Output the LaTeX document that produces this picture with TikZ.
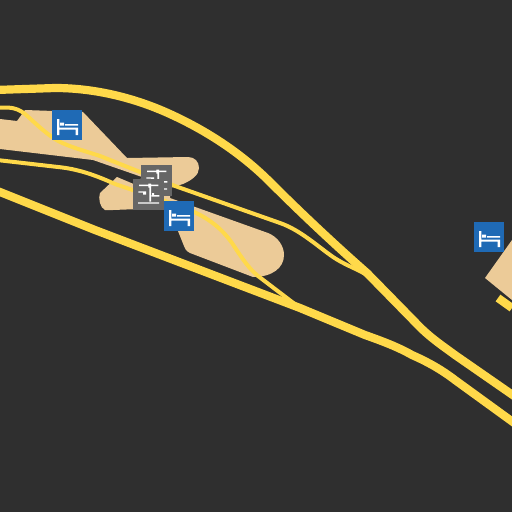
\documentclass[tikz,border=0pt]{standalone}
\definecolor{bgdark}{HTML}{2F2F2F}
\definecolor{tan}{HTML}{ECCB98}
\definecolor{road}{HTML}{FFD94A}
\definecolor{iconblue}{HTML}{1F6AB5}
\definecolor{icongray}{HTML}{666666}
\tikzset{
  roadwide/.style={draw=road,line width=8.2pt,line join=round},
  roadthin/.style={draw=road,line width=4pt,line join=round},
  area/.style={fill=tan,draw=none},
  bedicon/.pic={
    \fill[iconblue] (0,0) rectangle (30,30);
    \fill[white] (5,9) rectangle (7.3,25) (8.2,12.7) rectangle (12.2,15.7)
      (13.2,14) rectangle (26,15.7) (5,17.7) rectangle (26,19.7) (23.7,17.7) rectangle (26,25);
  },
  scaleicon/.pic={
    \fill[icongray] (0,0) rectangle (30.5,30.5);
    \fill[white] (6,5.7) rectangle (25.3,7) (15.3,4.7) rectangle (18,8.5) (16.3,8) rectangle (18,22.7)
      (5,23.3) rectangle (26,24.7) (5.3,12.3) rectangle (13,13.7) (18.7,16) rectangle (26.3,17.7)
      (10,13.7) rectangle (13,15.7) (19,14) rectangle (21,16);
  }
}
\begin{document}
\begin{tikzpicture}[x=1pt,y=-1pt]
\useasboundingbox (0,0) rectangle (512,512);
\fill[bgdark] (0,0) rectangle (512,512);
% sand areas
\fill[area] (0,119) -- (17,121) -- (25,110) -- (83,112) -- (127,158) -- (188,157)
  .. controls (195,157) and (199,162) .. (199,168)
  .. controls (199,175) and (192,180) .. (183,184)
  -- (170,188) -- (170,198) -- (268,233)
  .. controls (278,237) and (284,246) .. (284,255)
  .. controls (284,268) and (272,277) .. (253,277)
  -- (190,253) .. controls (186,251) and (185,249) .. (184,246)
  -- (178,231) -- (166,208) -- (113,210) -- (105,210)
  .. controls (100,208) and (98,198) .. (100,193)
  -- (117,177) -- (136,185) -- (142,177) -- (93,160) -- (0,149) -- cycle;
\fill[area] (512,240) -- (485,278) -- (512,300) -- cycle;
% roads
\draw[roadthin] (-3,107.5) -- (8,107.5) .. controls (15,108) and (20,110) .. (25,114)
  .. controls (33,121) and (42,130) .. (52,137)
  .. controls (62,145) and (85,151) .. (100,156)
  -- (175,186) -- (280,223)
  .. controls (300,230) and (316,245) .. (333,257)
  .. controls (345,265) and (355,268) .. (367,275);
\draw[roadthin] (-3,160) -- (58,167)
  .. controls (78,169) and (95,175) .. (115,184)
  -- (165,201) -- (185,208)
  .. controls (205,216) and (220,226) .. (232,243)
  .. controls (240,255) and (248,268) .. (258,276)
  -- (300,308);
\draw[roadwide] (-5,90) -- (55,88)
  .. controls (95,88) and (135,98) .. (170,114)
  .. controls (205,130) and (240,152) .. (270,182)
  .. controls (300,212) and (335,245) .. (367,273)
  -- (415,322)
  .. controls (428,336) and (440,344) .. (455,355)
  -- (517,398);
\draw[roadwide] (-5,190) -- (95,230) -- (300,308) -- (365,335)
  .. controls (382,341) and (398,347) .. (412,355)
  .. controls (428,362) and (442,370) .. (455,380)
  -- (517,425);
\draw[roadwide] (498,298) -- (512,308);
% icons
\pic at (141,165) {scaleicon};
\pic at (133,179) {scaleicon};
\pic at (52,110) {bedicon};
\pic at (164,201) {bedicon};
\pic at (474,222) {bedicon};
\end{tikzpicture}
\end{document}
